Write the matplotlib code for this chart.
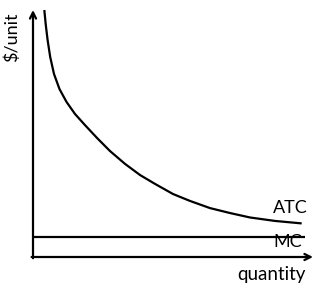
import matplotlib.pyplot as plt

# -----------------------------
# DATA (quantity vs $/unit)
# -----------------------------
atc_q = [0.404, 0.457, 0.521, 0.614, 0.75, 0.946, 1.196, 1.5, 1.857, 2.286, 2.75,
         3.286, 3.821, 4.357, 5.0, 5.607, 6.321, 7.036, 7.75, 8.643, 9.596]
atc_c = [10.0, 9.39, 8.79, 8.10, 7.41, 6.80, 6.28, 5.79, 5.34, 4.82, 4.29,
         3.77, 3.32, 2.96, 2.55, 2.27, 1.98, 1.78, 1.60, 1.46, 1.36]
mc_q = [0.0, 9.71]
mc_c = [0.81, 0.81]

x_label = "quantity"
y_label = "$/unit"

# -----------------------------
# FIGURE
# -----------------------------
fig = plt.figure(figsize=(3.22, 2.95), dpi=100)
ax = fig.add_axes([33 / 322, 38 / 295, 280 / 322, 247 / 295])
ax.set_xlim(0, 10)
ax.set_ylim(0, 10)
ax.axis('off')

font = ['Lato', 'DejaVu Sans']

# axes with arrow heads
arrow = dict(arrowstyle='->', color='black', lw=1.6, shrinkA=0, shrinkB=0, mutation_scale=11)
ax.annotate('', xy=(0, 10), xytext=(0, -0.05), arrowprops=arrow, annotation_clip=False)
ax.annotate('', xy=(10, 0), xytext=(-0.05, 0), arrowprops=arrow, annotation_clip=False)

# curves
ax.plot(atc_q, atc_c, color='black', lw=1.6, solid_capstyle='butt',
        solid_joinstyle='round', clip_on=False)
ax.plot(mc_q, mc_c, color='black', lw=1.6, solid_capstyle='butt', clip_on=False)

# labels
ax.text(8.57, 1.80, "ATC", fontsize=13, family=font, va='baseline', ha='left')
ax.text(8.57, 0.40, "MC", fontsize=13, family=font, va='baseline', ha='left')
ax.text(7.29, -0.93, x_label, fontsize=13.5, family=font, va='baseline', ha='left', clip_on=False)
ax.text(-0.75, 8.9, y_label, fontsize=13, family=font, rotation=90, va='center', ha='center', clip_on=False)

plt.savefig("out.png", dpi=100)
